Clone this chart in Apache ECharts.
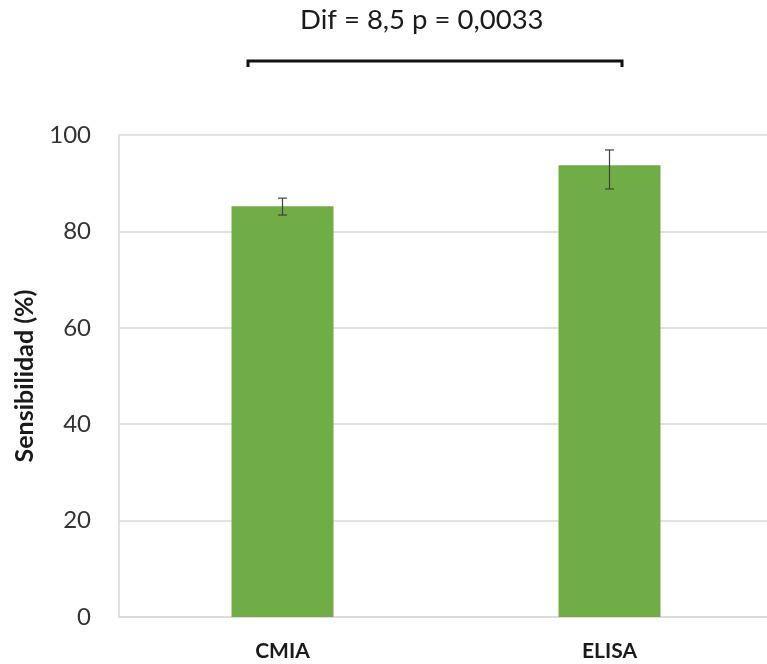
<!DOCTYPE html>
<html>
<head>
<meta charset="utf-8">
<script src="https://cdn.jsdelivr.net/npm/echarts@6/dist/echarts.min.js"></script>
<style>
  html, body { margin: 0; padding: 0; background: #fff; overflow: hidden; }
  /* plot area runs a few pixels past the right edge of the window */
  #chart { width: 773px; height: 664px; }
</style>
</head>
<body>
<div id="chart"></div>
<script>
// Sensitivity of the two assays, with error-bar limits
const categories = ['CMIA', 'ELISA'];
const sensitivity = [85.2, 93.7];
const errLow = [83.4, 88.8];
const errHigh = [86.9, 96.9];
const yTicks = { min: 0, max: 100, interval: 20 };
const annotation = 'Dif = 8,5 p = 0,0033';

const FONT = 'Lato';
const chart = echarts.init(document.getElementById('chart'), null, { renderer: 'canvas' });

const errorData = categories.map((c, i) => [i, errLow[i], errHigh[i]]);

chart.setOption({
  animation: false,
  backgroundColor: '#ffffff',
  textStyle: { fontFamily: FONT },
  grid: { left: 119, right: 0, top: 135, bottom: 47, containLabel: false },
  xAxis: {
    type: 'category',
    data: categories,
    axisLine: { show: true, lineStyle: { color: '#D9D9D9', width: 1.5 } },
    axisTick: { show: false },
    axisLabel: { color: '#1a1a1a', fontSize: 21, fontWeight: 'bold', fontFamily: FONT, margin: 24 }
  },
  yAxis: {
    type: 'value',
    min: yTicks.min, max: yTicks.max, interval: yTicks.interval,
    name: 'Sensibilidad (%)',
    nameLocation: 'middle',
    nameGap: 82,
    nameTextStyle: { color: '#1a1a1a', fontSize: 25, fontWeight: 'bold', fontFamily: FONT },
    axisLine: { show: true, lineStyle: { color: '#D9D9D9', width: 1.5 } },
    axisTick: { show: false },
    axisLabel: { color: '#333333', fontSize: 24, fontFamily: FONT, margin: 28 },
    splitLine: { lineStyle: { color: '#D9D9D9', width: 1.5 } }
  },
  series: [
    {
      type: 'bar',
      data: sensitivity,
      barWidth: 102,
      itemStyle: { color: '#70AD47' },
      z: 2
    },
    {
      type: 'custom',
      data: errorData,
      z: 3,
      renderItem: function (params, api) {
        const x = api.value(0);
        const lo = api.coord([x, api.value(1)]);
        const hi = api.coord([x, api.value(2)]);
        const cap = 4.5;
        const style = { stroke: '#404040', lineWidth: 1.2 };
        return {
          type: 'group',
          children: [
            { type: 'line', shape: { x1: hi[0], y1: hi[1], x2: lo[0], y2: lo[1] }, style: style },
            { type: 'line', shape: { x1: hi[0] - cap, y1: hi[1], x2: hi[0] + cap, y2: hi[1] }, style: style },
            { type: 'line', shape: { x1: lo[0] - cap, y1: lo[1], x2: lo[0] + cap, y2: lo[1] }, style: style }
          ]
        };
      }
    }
  ],
  graphic: [
    {
      type: 'text',
      left: 300,
      top: 6,
      style: { text: annotation, fontSize: 27.5, fontFamily: FONT, fill: '#1a1a1a' }
    },
    {
      type: 'polyline',
      shape: { points: [[248, 67], [248, 61], [622, 61], [622, 67]] },
      style: { stroke: '#111', lineWidth: 3, fill: null }
    }
  ]
});
</script>
</body>
</html>
